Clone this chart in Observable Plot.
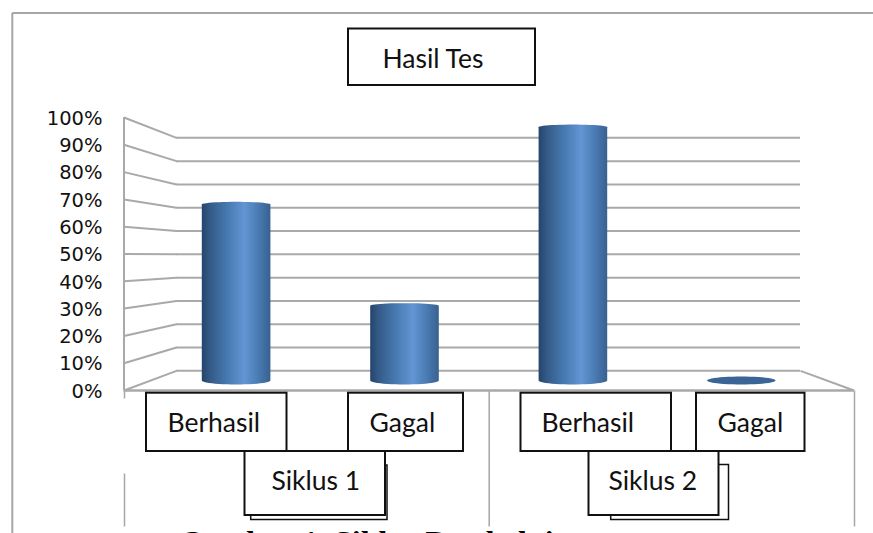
<!DOCTYPE html>
<html>
<head>
<meta charset="utf-8">
<style>html,body{margin:0;padding:0;background:#fff;overflow:hidden}svg{display:block}</style>
<script src="https://cdn.jsdelivr.net/npm/d3@7"></script>
<script src="https://cdn.jsdelivr.net/npm/@observablehq/plot@0.6"></script>
</head>
<body>
<div id="chart"></div>
<script>
// ---- data ----
const title = "Hasil Tes";
const caption = "Gambar 1. Siklus Pembelajaran";
const categories = ["Berhasil", "Gagal", "Berhasil", "Gagal"];
const cycles = ["Siklus 1", "Siklus 2"];
const values = [69.5, 29.5, 100, 0];
const tickValues = [0, 10, 20, 30, 40, 50, 60, 70, 80, 90, 100];

// ---- layout (page pixels -> scale units) ----
const W = 873, H = 533;
const xU = px => (px - 235.6) / 168.4;     // one unit = one category
const yU = px => (390 - px) / 2.73;        // one unit = one percent on the front plane
const backY = v => 7.2 + 0.8535 * v;       // percent on back wall
const midY = v => 3.66 + 0.928 * v;        // percent at the depth of the cylinders
const backL = xU(176), backR = xU(800), frontL = xU(123.5), frontR = xU(853.5);

const gridColor = "#a9a9a9";
const backLines = tickValues.map(v => ({x1: backL, x2: backR, y: backY(v)}));
const sideLines = tickValues.map(v => ({x1: frontL, x2: backL, y1: v, y2: backY(v)}));

// cylinders
const rx = 34.3 / 168.4, ryBottom = 4 / 2.73, ryTop = 2.6 / 2.73;
const arc = (i, yc, ry, from, to, n = 24) =>
  d3.range(n + 1).map(k => {
    const t = from + (to - from) * k / n;
    return {i, x: i + rx * Math.cos(t), y: yc + ry * Math.sin(t)};
  });
const solids = values.flatMap((v, i) => v > 0
  ? [...arc(i, midY(0), ryBottom, Math.PI, 2 * Math.PI), ...arc(i, midY(v), ryTop, 0, Math.PI)]
  : []);
const flats = values.flatMap((v, i) => v > 0 ? [] : arc(i, midY(v), ryBottom, 0, 2 * Math.PI, 48));

// text boxes pasted over the axis
const boxes = [
  {text: title,         l: 348,   r: 535,   t: 28.5,  b: 85,  tx: 382, ty: 59},
  {text: categories[0], l: 146,   r: 286.5, t: 392.7, b: 451, tx: 167, ty: 423},
  {text: categories[1], l: 348,   r: 463,   t: 392.7, b: 451, tx: 369, ty: 423},
  {text: categories[2], l: 520.5, r: 671,   t: 392.7, b: 451, tx: 541, ty: 423},
  {text: categories[3], l: 696,   r: 804.5, t: 392.7, b: 451, tx: 717, ty: 423}
];
const shadowBoxes = [
  {l: 250.7, r: 387, t: 465, b: 519.5},
  {l: 610.7, r: 728.5, t: 464.5, b: 519.5}
];
const cycleBoxes = [
  {text: cycles[0], l: 244.5, r: 385, t: 451, b: 515, tx: 271, ty: 481},
  {text: cycles[1], l: 588.5, r: 718.5, t: 451, b: 515, tx: 608, ty: 481}
];
const frameLines = [
  {x1: 11.8, y1: 12.5, x2: 873, y2: 12.5},
  {x1: 11.8, y1: 12.5, x2: 11.8, y2: 533}
];
const sepLines = [
  {x1: 124, y1: 390, x2: 124, y2: 398},
  {x1: 124, y1: 473, x2: 124, y2: 526},
  {x1: 488.7, y1: 390, x2: 488.7, y2: 526},
  {x1: 854, y1: 390, x2: 854, y2: 526}
];
const pxSeg = d => ({x1: xU(d.x1), x2: xU(d.x2), y1: yU(d.y1), y2: yU(d.y2)});

const defs = () => {
  const d = d3.create("svg:defs");
  const g = d.append("linearGradient").attr("id", "cyl").attr("x1", 0).attr("x2", 1).attr("y1", 0).attr("y2", 0);
  [[0, "#24456b"], [0.12, "#345a87"], [0.35, "#4577ad"], [0.62, "#6295d3"], [0.82, "#4a7bb4"], [1, "#38618f"]]
    .forEach(([o, c]) => g.append("stop").attr("offset", o).attr("stop-color", c));
  return d.node();
};

const box = (data, opts = {}) => Plot.rect(data, {
  x1: d => xU(d.l), x2: d => xU(d.r), y1: d => yU(d.t), y2: d => yU(d.b),
  fill: "white", stroke: "#111", strokeWidth: 2, ...opts
});
const boxText = data => Plot.text(data, {
  text: "text", x: d => xU(d.tx), y: d => yU(d.ty),
  textAnchor: "start", fontSize: 26.5, fontFamily: "Lato", fill: "#111"
});

const chart = Plot.plot({
  width: W, height: H,
  marginTop: 0, marginRight: 0, marginBottom: 0, marginLeft: 102,
  x: {domain: [xU(0), xU(W)], range: [0, W], axis: null},
  y: {domain: [yU(H), yU(0)], range: [H, 0], axis: null},
  style: {background: "#fff"},
  marks: [
    defs,
    Plot.link(frameLines.map(pxSeg), {x1: "x1", x2: "x2", y1: "y1", y2: "y2", stroke: "#a6a6a6", strokeWidth: 2}),
    Plot.link(sepLines.map(pxSeg), {x1: "x1", x2: "x2", y1: "y1", y2: "y2", stroke: "#a6a6a6", strokeWidth: 1.5}),
    Plot.ruleY(backLines, {x1: "x1", x2: "x2", y: "y", stroke: gridColor, strokeWidth: 2}),
    Plot.link(sideLines, {x1: "x1", x2: "x2", y1: "y1", y2: "y2", stroke: gridColor, strokeWidth: 2}),
    Plot.ruleX([frontL], {y1: 0, y2: 100, stroke: gridColor, strokeWidth: 2}),
    Plot.ruleY([0], {x1: frontL, x2: frontR, stroke: gridColor, strokeWidth: 2.5}),
    Plot.link([{x1: backR, x2: frontR, y1: backY(0), y2: 0}], {x1: "x1", x2: "x2", y1: "y1", y2: "y2", stroke: gridColor, strokeWidth: 2}),
    Plot.line(solids, {x: "x", y: "y", z: "i", fill: "url(#cyl)", stroke: "none"}),
    Plot.line(flats, {x: "x", y: "y", z: "i", fill: "#3a6596", stroke: "none"}),
    Plot.axisY({ticks: tickValues, tickFormat: d => d + "%", tickSize: 0, tickPadding: 0, label: null,
      fontSize: 19.5, fontFamily: "DejaVu Sans", color: "#111", dy: 1}),
    box(shadowBoxes, {strokeWidth: 1.5}),
    box(cycleBoxes),
    box(boxes),
    boxText(boxes),
    boxText(cycleBoxes),
    Plot.text([caption], {x: xU(178.5), y: yU(542.5), textAnchor: "start", fontSize: 32,
      fontFamily: "Liberation Serif", fontWeight: "bold", fill: "#000"})
  ]
});
document.getElementById("chart").appendChild(chart);
</script>
</body>
</html>
